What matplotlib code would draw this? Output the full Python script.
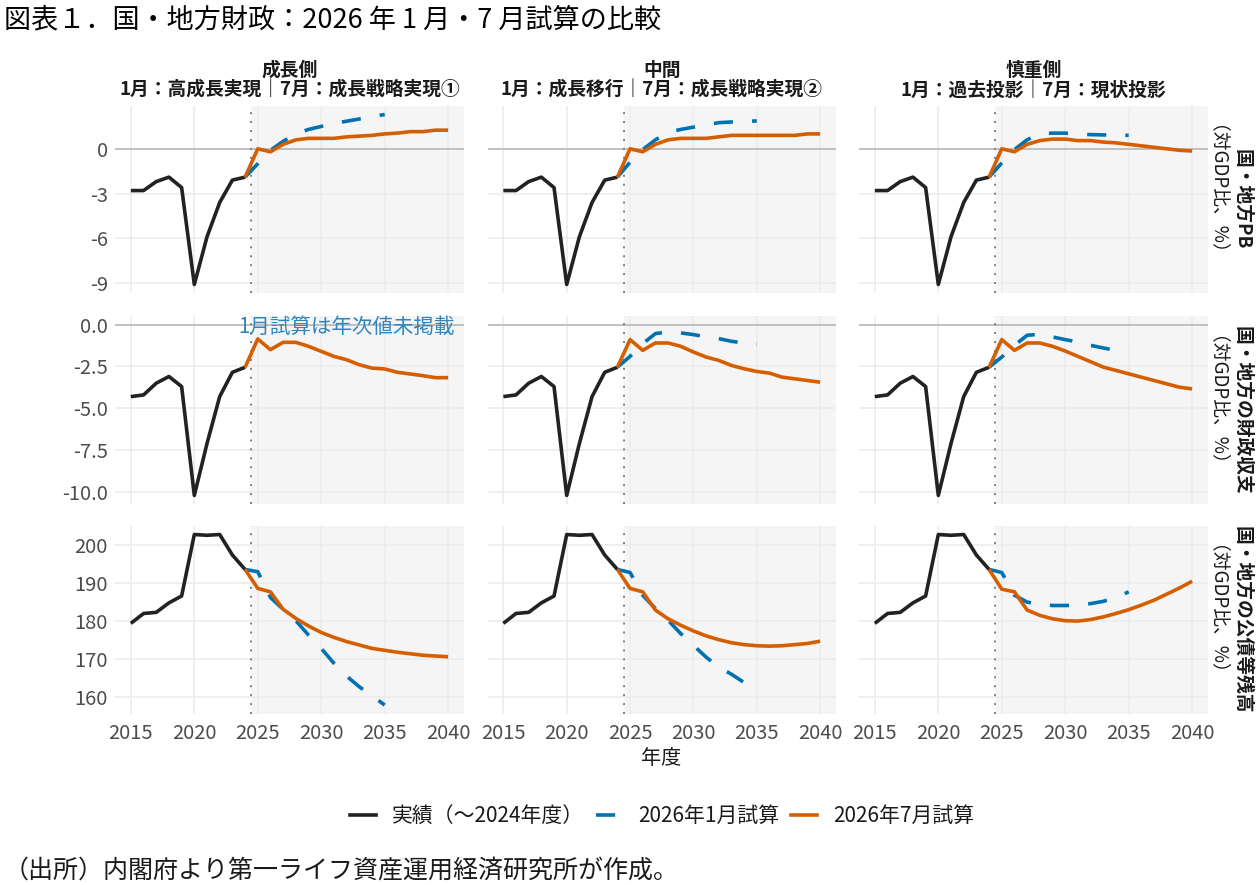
import matplotlib.pyplot as plt
import numpy as np

plt.rcParams['font.family'] = ['Noto Sans CJK JP', 'DejaVu Sans']
plt.rcParams['axes.unicode_minus'] = False

# --- data ---
years_actual = list(range(2015, 2025))
years_jan = list(range(2025, 2036))
years_jul = list(range(2025, 2041))

col_titles = ['成長側', '中間', '慎重側']
col_subtitles = ['1月：高成長実現｜7月：成長戦略実現①',
                 '1月：成長移行｜7月：成長戦略実現②',
                 '1月：過去投影｜7月：現状投影']
row_titles = ['国・地方PB', '国・地方の財政収支', '国・地方の公債等残高']
row_unit = '（対GDP比、%）'

# primary balance (% of GDP)
pb_actual = [-2.8, -2.8, -2.2, -1.9, -2.6, -9.1, -5.9, -3.6, -2.1, -1.9]
pb_jan = [
    [-1.0, -0.1, 0.5, 1.0, 1.3, 1.5, 1.7, 1.85, 2.0, 2.15, 2.3],
    [-0.9, -0.05, 0.6, 1.1, 1.3, 1.45, 1.6, 1.75, 1.8, 1.82, 1.87],
    [-0.95, -0.05, 0.6, 1.0, 1.05, 1.05, 1.0, 0.95, 0.93, 0.93, 0.9],
]
pb_jul = [
    [0.0, -0.2, 0.3, 0.6, 0.7, 0.7, 0.7, 0.8, 0.85, 0.9, 1.0, 1.05, 1.15, 1.15, 1.25, 1.25],
    [0.0, -0.2, 0.3, 0.6, 0.7, 0.7, 0.7, 0.8, 0.9, 0.9, 0.9, 0.9, 0.9, 0.9, 1.0, 1.0],
    [0.0, -0.2, 0.3, 0.55, 0.65, 0.65, 0.55, 0.55, 0.45, 0.4, 0.3, 0.2, 0.1, 0.0, -0.1, -0.15],
]

# fiscal balance (% of GDP); January estimate has no yearly values for the growth case
bal_actual = [-4.3, -4.2, -3.5, -3.1, -3.7, -10.2, -7.1, -4.3, -2.85, -2.55]
bal_jan = [
    None,
    [-1.9, -1.14, -0.54, -0.44, -0.5, -0.6, -0.74, -0.84, -1.0, -1.1, -1.2],
    [-1.94, -1.24, -0.64, -0.58, -0.74, -0.9, -1.04, -1.24, -1.4, -1.54, -1.64],
]
bal_jul = [
    [-0.86, -1.5, -1.06, -1.06, -1.3, -1.6, -1.9, -2.1, -2.4, -2.6, -2.65, -2.85, -2.95, -3.05, -3.17, -3.17],
    [-0.9, -1.54, -1.1, -1.1, -1.3, -1.64, -1.94, -2.14, -2.44, -2.64, -2.8, -2.9, -3.14, -3.24, -3.34, -3.44],
    [-0.9, -1.54, -1.1, -1.1, -1.3, -1.58, -1.9, -2.22, -2.54, -2.74, -2.94, -3.14, -3.34, -3.54, -3.74, -3.84],
]

# public debt outstanding (% of GDP)
debt_actual = [179.4, 182.0, 182.3, 184.8, 186.6, 202.8, 202.6, 202.8, 197.4, 193.6]
debt_jan = [
    [193.0, 186.2, 183.1, 180.1, 176.3, 172.8, 168.9, 165.5, 162.7, 160.3, 157.9],
    [192.8, 186.8, 183.3, 180.2, 176.7, 173.6, 170.5, 167.9, 166.0, 163.8, 161.5],
    [192.8, 186.8, 185.0, 184.4, 184.1, 184.1, 184.2, 184.6, 185.2, 186.2, 187.7],
]
debt_jul = [
    [188.6, 187.7, 183.1, 180.7, 178.7, 177.0, 175.7, 174.6, 173.7, 172.8, 172.3, 171.8, 171.4, 171.0, 170.8, 170.6],
    [188.6, 187.7, 182.9, 180.6, 178.9, 177.4, 176.1, 175.1, 174.3, 173.8, 173.5, 173.4, 173.5, 173.8, 174.1, 174.7],
    [188.4, 187.7, 182.9, 181.5, 180.6, 180.1, 180.0, 180.4, 181.1, 182.0, 183.0, 184.2, 185.5, 187.1, 188.7, 190.5],
]

row_actual = [pb_actual, bal_actual, debt_actual]
row_jan = [pb_jan, bal_jan, debt_jan]
row_jul = [pb_jul, bal_jul, debt_jul]
row_ticks = [[0, -3, -6, -9], [0.0, -2.5, -5.0, -7.5, -10.0], [200, 190, 180, 170, 160]]
row_ticklabels = [['0', '-3', '-6', '-9'], ['0.0', '-2.5', '-5.0', '-7.5', '-10.0'],
                  ['200', '190', '180', '170', '160']]
row_zero = [True, True, False]
x_ticks = [2015, 2020, 2025, 2030, 2035, 2040]

# --- style ---
C_ACT = '#222222'
C_JAN = '#0072B2'
C_JUL = '#D55E00'
LW = 2.6
DASH = (5.3, 5.3)
W, H = 1260, 885

col_px = [(115, 464), (487.5, 836), (859, 1208)]
row_px = [(106, 293), (316, 504), (526, 713.5)]
x_lo, x_hi = 2013.75, 2041.25

fig = plt.figure(figsize=(W / 100, H / 100), dpi=100)

for r in range(3):
    actual = row_actual[r]
    # shared y range per row (free y scale with 5% expansion)
    vals = list(actual)
    for c in range(3):
        vals += row_jul[r][c]
        if row_jan[r][c] is not None:
            vals += row_jan[r][c]
    if row_zero[r]:
        vals.append(0)
    lo, hi = min(vals), max(vals)
    pad = 0.05 * (hi - lo)
    y_lo, y_hi = lo - pad, hi + pad

    for c in range(3):
        x0, x1 = col_px[c]
        y0, y1 = row_px[r]
        ax = fig.add_axes([x0 / W, 1 - y1 / H, (x1 - x0) / W, (y1 - y0) / H])
        ax.set_xlim(x_lo, x_hi)
        ax.set_ylim(y_lo, y_hi)
        for s in ax.spines.values():
            s.set_visible(False)
        ax.set_axisbelow(True)
        ax.grid(True, color='#EBEBEB', linewidth=1.1, zorder=0.5)
        ax.axvspan(2024.5, x_hi, color='#F5F5F5', zorder=0.2, lw=0)
        if row_zero[r]:
            ax.axhline(0, color='#BDBDBD', linewidth=1.3, zorder=1)
        ax.axvline(2024.5, color='#7F7F7F', linewidth=1.4, linestyle=(0, (1, 3.6)), zorder=1.5)

        ax.plot(years_actual, actual, color=C_ACT, lw=LW, zorder=3, solid_capstyle='butt')
        if row_jan[r][c] is not None:
            ax.plot([2024] + years_jan, [actual[-1]] + row_jan[r][c], color=C_JAN, lw=LW,
                    dashes=DASH, zorder=3, dash_capstyle='butt')
        ax.plot([2024] + years_jul, [actual[-1]] + row_jul[r][c], color=C_JUL, lw=LW, zorder=4,
                solid_capstyle='butt')

        ax.set_xticks(x_ticks)
        ax.set_yticks(row_ticks[r])
        ax.tick_params(axis='y', length=0, pad=5, labelsize=14.5, labelcolor='#4D4D4D')
        ax.tick_params(axis='x', length=0, pad=7, labelsize=14.5, labelcolor='#4D4D4D')
        if c == 0:
            ax.set_yticklabels(row_ticklabels[r])
        else:
            ax.set_yticklabels([])
        if r == 2:
            ax.set_xticklabels([str(x) for x in x_ticks])
        else:
            ax.set_xticklabels([])

        if r == 1 and c == 0:
            ax.text(2032, -0.12, '1月試算は年次値未掲載', color='#2E86C1', fontsize=14.8,
                    ha='center', va='center', zorder=5)

# column strips
for c in range(3):
    xc = (col_px[c][0] + col_px[c][1]) / 2 / W
    fig.text(xc, 1 - 70 / H, col_titles[c], ha='center', va='center', fontsize=13.5,
             fontweight='bold', color='#1A1A1A')
    fig.text(xc, 1 - 90 / H, col_subtitles[c], ha='center', va='center', fontsize=13.5,
             fontweight='bold', color='#1A1A1A')

# row strips (rotated, reading downwards); regular weight sits ~11px right of its anchor
for r in range(3):
    yc = 1 - (row_px[r][0] + row_px[r][1]) / 2 / H
    fig.text(1237 / W, yc, row_titles[r], rotation=-90, rotation_mode='anchor',
             ha='center', va='baseline', fontsize=13.5, fontweight='bold', color='#1A1A1A')
    fig.text(1202 / W, yc, row_unit, rotation=-90, rotation_mode='anchor',
             ha='center', va='baseline', fontsize=13.5, color='#1A1A1A')

fig.text(661 / W, 1 - 758 / H, '年度', ha='center', va='center', fontsize=14.5, color='#1A1A1A')

fig.text(4 / W, 1 - 20 / H, '図表１．国・地方財政：2026 年 1 月・7 月試算の比較',
         ha='left', va='center', fontsize=19.5, color='black')

# legend
handles = [
    plt.Line2D([], [], color=C_ACT, lw=LW),
    plt.Line2D([], [], color=C_JAN, lw=LW, dashes=DASH),
    plt.Line2D([], [], color=C_JUL, lw=LW),
]
labels = ['実績（～2024年度）', '2026年1月試算', '2026年7月試算']
fig.legend(handles, labels, loc='center', bbox_to_anchor=(662 / W, 1 - 816 / H), ncol=3,
           frameon=False, fontsize=15, handlelength=1.25, columnspacing=0.6,
           handletextpad=0.75, labelcolor='#1A1A1A')

fig.text(4 / W, 1 - 870 / H, '（出所）内閣府より第一ライフ資産運用経済研究所が作成。',
         ha='left', va='center', fontsize=18, color='#1A1A1A')

fig.savefig('out.png', dpi=100)
